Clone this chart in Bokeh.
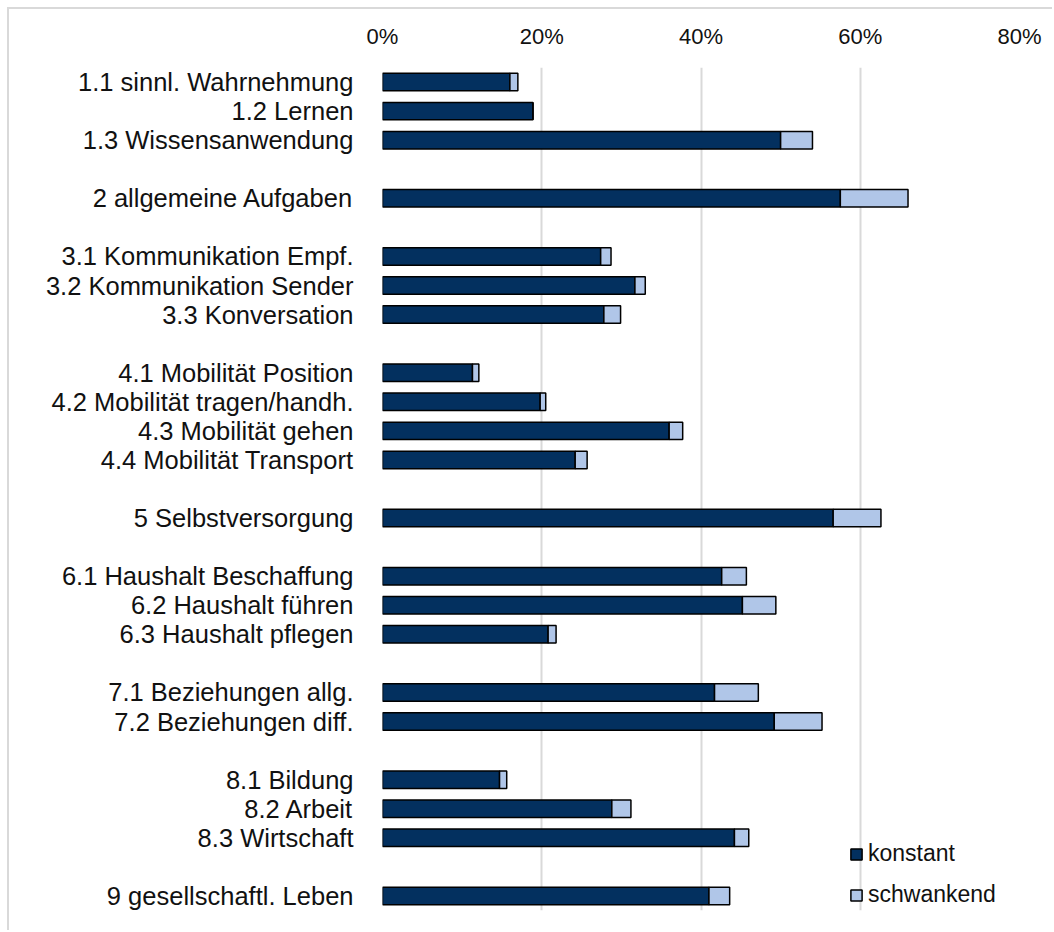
from bokeh.plotting import figure
from bokeh.models import ColumnDataSource, FixedTicker, NumeralTickFormatter, Range1d, Legend, LegendItem
from bokeh.embed import file_html
from bokeh.resources import INLINE

# ---- data ----
groups = [
    ["1.1 sinnl. Wahrnehmung", "1.2 Lernen", "1.3 Wissensanwendung"],
    ["2 allgemeine Aufgaben"],
    ["3.1 Kommunikation Empf.", "3.2 Kommunikation Sender", "3.3 Konversation"],
    ["4.1 Mobilität Position", "4.2 Mobilität tragen/handh.", "4.3 Mobilität gehen", "4.4 Mobilität Transport"],
    ["5 Selbstversorgung"],
    ["6.1 Haushalt Beschaffung", "6.2 Haushalt führen", "6.3 Haushalt pflegen"],
    ["7.1 Beziehungen allg.", "7.2 Beziehungen diff."],
    ["8.1 Bildung", "8.2 Arbeit", "8.3 Wirtschaft"],
    ["9 gesellschaftl. Leben"],
]
konstant = [16.0, 18.9, 50.0, 57.5, 27.4, 31.7, 27.8, 11.3, 19.8, 36.0, 24.2,
            56.6, 42.6, 45.2, 20.8, 41.7, 49.2, 14.7, 28.8, 44.2, 41.0]
schwankend = [1.0, 0.0, 4.0, 8.5, 1.3, 1.3, 2.1, 0.8, 0.7, 1.7, 1.5,
              6.0, 3.1, 4.2, 1.0, 5.5, 6.0, 0.9, 2.4, 1.8, 2.6]
series_names = ["konstant", "schwankend"]
series_colors = ["#03305f", "#b0c6e8"]
x_ticks = [0.0, 0.2, 0.4, 0.6, 0.8]

# ---- positions (one blank slot between groups) ----
labels, ypos = [], []
slot = 0
for gi, g in enumerate(groups):
    for name in g:
        labels.append(name)
        ypos.append(slot)
        slot += 1
    if gi < len(groups) - 1:
        slot += 1
n_slots = slot

source = ColumnDataSource(dict(
    y=ypos,
    label=labels,
    konstant=[v / 100 for v in konstant],
    schwankend=[v / 100 for v in schwankend],
))

FONT = "Liberation Sans"
TXT = "#111111"

p = figure(
    width=1045, height=923,
    x_range=Range1d(0, 0.8), y_range=Range1d(n_slots - 0.5, -0.5),
    x_axis_location="above",
    output_backend="svg", toolbar_location=None,
    min_border_left=373, min_border_right=35, min_border_top=58, min_border_bottom=22,
)
p.styles = {"border-top": "2px solid #d9d9d9", "border-left": "2px solid #d9d9d9",
            "margin-top": "7px", "margin-left": "7px"}
p.outline_line_color = None

renderers = p.hbar_stack(series_names, y="y", height=0.6, source=source,
                         color=series_colors, line_color="#000000", line_width=1.5)

# x axis
p.xaxis.ticker = FixedTicker(ticks=x_ticks)
p.xaxis.formatter = NumeralTickFormatter(format="0%")
p.xaxis.axis_line_color = None
p.xaxis.major_tick_line_color = None
p.xaxis.minor_tick_line_color = None
p.xaxis.major_label_text_font = FONT
p.xaxis.major_label_text_font_size = "22px"
p.xaxis.major_label_text_color = TXT
p.xaxis.major_label_standoff = 13

# y axis
p.yaxis.ticker = FixedTicker(ticks=ypos)
p.yaxis.major_label_overrides = {y: lab for y, lab in zip(ypos, labels)}
p.yaxis.axis_line_color = None
p.yaxis.major_tick_line_color = None
p.yaxis.minor_tick_line_color = None
p.yaxis.major_label_text_font = FONT
p.yaxis.major_label_text_font_size = "25.5px"
p.yaxis.major_label_text_color = TXT
p.yaxis.major_label_standoff = 23

# grid
p.xgrid.ticker = FixedTicker(ticks=x_ticks)
p.xgrid.grid_line_color = "#d9d9d9"
p.xgrid.grid_line_width = 2
p.ygrid.grid_line_color = None
p.xgrid.level = "underlay"

legend = Legend(
    items=[LegendItem(label=n, renderers=[r]) for n, r in zip(series_names, renderers)],
    location=(467, 2), orientation="vertical",
    label_text_font=FONT, label_text_font_size="23px", label_text_color=TXT,
    glyph_width=14, glyph_height=14, label_standoff=5, label_height=22,
    spacing=14, padding=0, margin=0,
    background_fill_alpha=0, border_line_color=None,
)
p.add_layout(legend)

open("out.html", "w").write(file_html(p, INLINE))
